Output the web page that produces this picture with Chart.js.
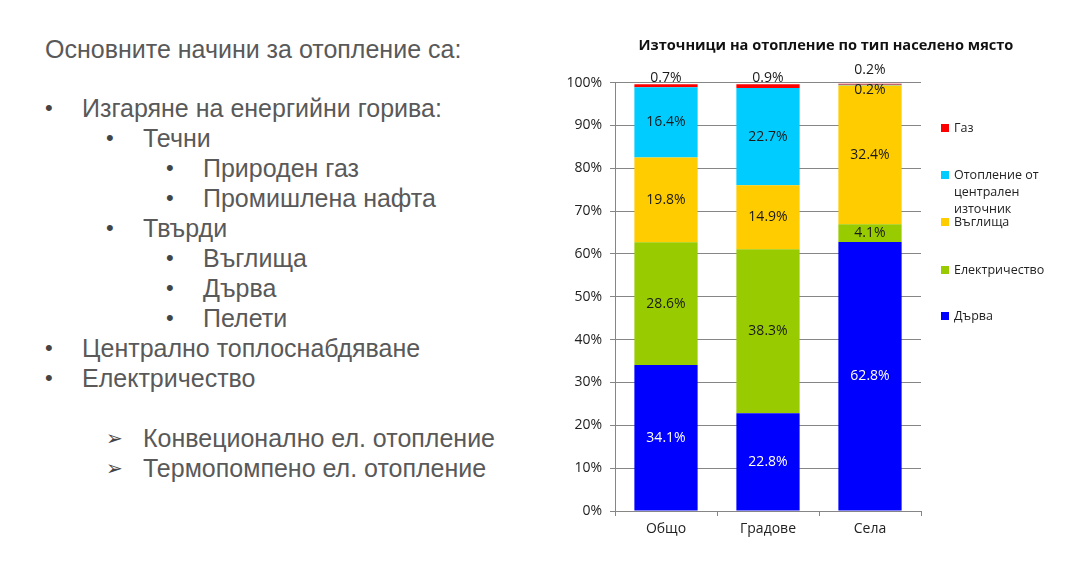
<!DOCTYPE html>
<html>
<head>
<meta charset="utf-8">
<script src="https://cdn.jsdelivr.net/npm/chart.js@4.4.1/dist/chart.umd.min.js"></script>
<style>
  html, body { margin: 0; padding: 0; background: #fff; }
  body { width: 1078px; height: 566px; position: relative; overflow: hidden; }
  .slide-text { position: absolute; left: 0; top: 0; font-family: "Liberation Sans", Arial, sans-serif; font-size: 25px; color: #595959; }
  .slide-text div { position: absolute; white-space: nowrap; line-height: 30px; }
  .legend { position: absolute; left: 941px; top: 0; font-family: "Open Sans", sans-serif; font-size: 12.5px; color: #222; }
  .legend .item { position: absolute; white-space: nowrap; line-height: 17px; }
  .legend .sw { position: absolute; left: 0; top: 5px; width: 8px; height: 8px; }
  .legend .txt { position: absolute; left: 13px; top: 0; }
  #wrap { position: absolute; left: 560px; top: 30px; width: 532px; height: 521px; }
</style>
</head>
<body>
<div class="slide-text" id="slideText"></div>
<div id="wrap"><canvas id="heatChart"></canvas></div>
<div class="legend" id="legend"></div>
<script>
var categories = ["Общо", "Градове", "Села"];
var seriesNames = ["Дърва", "Електричество", "Въглища", "Отопление от централен източник", "Газ"];
var woodValues = [34.1, 22.8, 62.8];
var electricityValues = [28.6, 38.3, 4.1];
var coalValues = [19.8, 14.9, 32.4];
var centralValues = [16.4, 22.7, 0.2];
var gasValues = [0.7, 0.9, 0.2];
var yTicks = [0, 10, 20, 30, 40, 50, 60, 70, 80, 90, 100];

var seriesColors = ["#0000FF", "#99CC00", "#FFCC00", "#00CCFF", "#FF0000"];
var labelColors = ["#FFFFFF", "#1a1a1a", "#1a1a1a", "#1a1a1a", "#1a1a1a"];

// left side text of the slide
var lines = [
    {x: 45, y: 34, t: "Основните начини за отопление са:"},
    {x: 45, y: 93, b: "•", t: "Изгаряне на енергийни горива:"},
    {x: 106, y: 123, b: "•", t: "Течни"},
    {x: 166, y: 153, b: "•", t: "Природен газ"},
    {x: 166, y: 183, b: "•", t: "Промишлена нафта"},
    {x: 106, y: 213, b: "•", t: "Твърди"},
    {x: 166, y: 243, b: "•", t: "Въглища"},
    {x: 166, y: 273, b: "•", t: "Дърва"},
    {x: 166, y: 303, b: "•", t: "Пелети"},
    {x: 45, y: 333, b: "•", t: "Централно топлоснабдяване"},
    {x: 45, y: 363, b: "•", t: "Електричество"},
    {x: 106, y: 423, b: "➢", t: "Конвеционално ел. отопление"},
    {x: 106, y: 453, b: "➢", t: "Термопомпено ел. отопление"}
];
var st = document.getElementById("slideText");
lines.forEach(function (l) {
    if (l.b) {
        var b = document.createElement("div");
        b.style.left = l.x + "px"; b.style.top = l.y + "px";
        b.style.fontSize = l.b === "•" ? "22px" : "20px";
        b.style.color = "#444";
        b.textContent = l.b;
        st.appendChild(b);
        var d = document.createElement("div");
        d.style.left = (l.x + 37) + "px"; d.style.top = l.y + "px";
        d.textContent = l.t;
        st.appendChild(d);
    } else {
        var h = document.createElement("div");
        h.style.left = l.x + "px"; h.style.top = l.y + "px";
        h.textContent = l.t;
        st.appendChild(h);
    }
});

// legend (top item first, like the stacked bars)
var legendTops = [119, 166, 213, 261, 307];
var lg = document.getElementById("legend");
for (var k = 0; k < seriesNames.length; k++) {
    var idx = seriesNames.length - 1 - k;
    var it = document.createElement("div");
    it.className = "item";
    it.style.top = legendTops[k] + "px";
    var sw = document.createElement("span");
    sw.className = "sw"; sw.style.background = seriesColors[idx];
    var tx = document.createElement("span");
    tx.className = "txt";
    tx.innerHTML = idx === 3 ? "Отопление от<br>централен<br>източник" : seriesNames[idx];
    it.appendChild(sw); it.appendChild(tx);
    lg.appendChild(it);
}

var segmentLabels = {
    id: "segmentLabels",
    afterDatasetsDraw: function (chart) {
        var ctx = chart.ctx;
        ctx.save();
        ctx.font = '14px "Open Sans"';
        ctx.textAlign = "center";
        ctx.textBaseline = "middle";
        chart.data.labels.forEach(function (lab, i) {
            var small = [];
            chart.data.datasets.forEach(function (ds, d) {
                var el = chart.getDatasetMeta(d).data[i];
                var v = ds.data[i];
                var text = v.toFixed(1) + "%";
                if (v < 1) { small.push({el: el, text: text, color: labelColors[d]}); return; }
                ctx.fillStyle = labelColors[d];
                ctx.fillText(text, el.x, (el.y + el.base) / 2);
            });
            if (small.length === 1) {
                ctx.fillStyle = small[0].color;
                ctx.fillText(small[0].text, small[0].el.x, small[0].el.y - 6);
            } else if (small.length > 1) {
                small.forEach(function (s, n) {
                    ctx.fillStyle = s.color;
                    var top = n === small.length - 1;
                    ctx.fillText(s.text, s.el.x, top ? s.el.y - 14 : s.el.y + 5);
                });
            }
        });
        ctx.restore();
    }
};

var allValues = [woodValues, electricityValues, coalValues, centralValues, gasValues];
var ctx1 = document.getElementById("heatChart");
var heatChart = new Chart(ctx1, {
    type: "bar",
    data: {
        labels: categories,
        datasets: seriesNames.map(function (name, d) {
            return {
                label: name,
                data: allValues[d],
                backgroundColor: seriesColors[d],
                borderWidth: 0,
                barPercentage: 0.62,
                categoryPercentage: 1.0
            };
        })
    },
    plugins: [segmentLabels],
    options: {
        responsive: true,
        maintainAspectRatio: false,
        animation: false,
        layout: { padding: 0 },
        plugins: {
            legend: { display: false },
            tooltip: { enabled: false },
            title: {
                display: true,
                text: "Източници на отопление по тип населено място",
                color: "#111",
                font: { family: "Open Sans", size: 14.6, weight: "bold" },
                padding: { top: 7, bottom: 28 },
                align: "center"
            }
        },
        scales: {
            x: {
                stacked: true,
                grid: { drawOnChartArea: false, drawTicks: true, tickLength: 5, color: "#868686", offset: true },
                border: { color: "#868686" },
                ticks: { color: "#222", font: { family: "Open Sans", size: 14 }, padding: 5 },
                afterFit: function (s) { s.height = 40; }
            },
            y: {
                stacked: true,
                min: 0,
                max: 100,
                afterBuildTicks: function (s) { s.ticks = yTicks.map(function (v) { return {value: v}; }); },
                grid: { color: "#868686", tickLength: 5 },
                border: { color: "#868686" },
                ticks: {
                    color: "#222",
                    font: { family: "Open Sans", size: 14 },
                    padding: 8,
                    callback: function (v) { return v + "%"; }
                },
                afterFit: function (s) { s.width = 55; }
            },
            // empty space on the right where the legend sits
            legendSpace: {
                type: "linear",
                position: "right",
                display: true,
                grid: { display: false },
                border: { display: false },
                ticks: { display: false },
                afterFit: function (s) { s.width = 171; }
            }
        }
    }
});
</script>
</body>
</html>
